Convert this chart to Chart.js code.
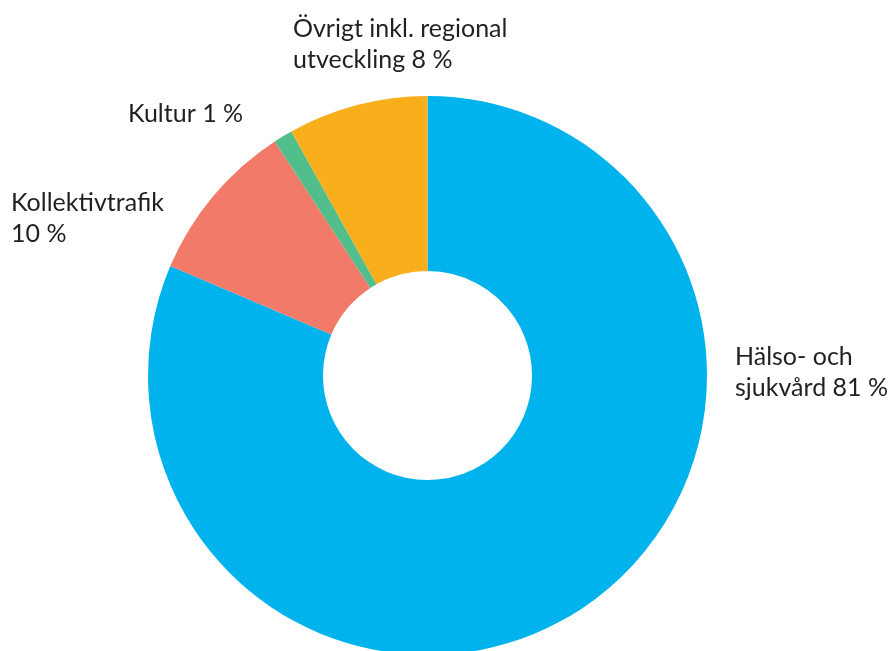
<!DOCTYPE html>
<html lang="sv">
<head>
<meta charset="utf-8">
<title>Kostnadsfördelning</title>
<script src="https://cdn.jsdelivr.net/npm/chart.js@4/dist/chart.umd.min.js"></script>
<style>
  html, body { margin: 0; padding: 0; background: #ffffff; overflow: hidden; }
  #wrap { position: relative; width: 890px; height: 660px; }
</style>
</head>
<body>
<div id="wrap"><canvas id="chart"></canvas></div>
<script>
// Data
const categories = ['Hälso- och sjukvård', 'Kollektivtrafik', 'Kultur', 'Övrigt inkl. regional utveckling'];
const shares = [81.4, 9.4, 1.1, 8.1];
const labelLines = [
  ['Hälso- och', 'sjukvård 81 %'],
  ['Kollektivtrafik', '10 %'],
  ['Kultur 1 %'],
  ['Övrigt inkl. regional', 'utveckling 8 %']
];
const colors = ['#00b3ed', '#f27a69', '#52be8b', '#f9ae1b'];

// Label anchors (left x, first baseline y)
const labelPos = [
  { x: 735, y: 365 },
  { x: 11, y: 211 },
  { x: 128, y: 122 },
  { x: 293, y: 37 }
];

const sliceLabels = {
  id: 'sliceLabels',
  afterDraw(chart) {
    const ctx = chart.ctx;
    ctx.save();
    ctx.font = '25px Lato, "Noto Sans", sans-serif';
    ctx.fillStyle = '#231f20';
    ctx.textAlign = 'left';
    ctx.textBaseline = 'alphabetic';
    labelLines.forEach((lines, i) => {
      lines.forEach((t, j) => {
        ctx.fillText(t, labelPos[i].x, labelPos[i].y + j * 31);
      });
    });
    ctx.restore();
  }
};

const ctx = document.getElementById('chart').getContext('2d');
new Chart(ctx, {
  type: 'doughnut',
  data: {
    labels: categories,
    datasets: [{
      data: shares,
      backgroundColor: colors,
      borderWidth: 0,
      hoverOffset: 0
    }]
  },
  options: {
    responsive: true,
    maintainAspectRatio: false,
    animation: false,
    cutout: '37.4%',
    layout: { padding: { top: 96, bottom: 5, left: 148, right: 183 } },
    plugins: {
      legend: { display: false },
      tooltip: { enabled: false }
    }
  },
  plugins: [sliceLabels]
});
</script>
</body>
</html>
